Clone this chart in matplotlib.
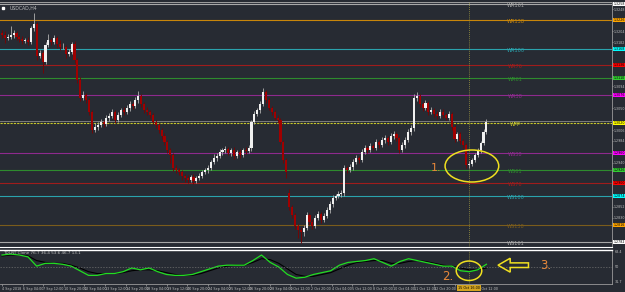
import numpy as np
import matplotlib
matplotlib.use('Agg')
import matplotlib.pyplot as plt
from matplotlib.patches import Ellipse, FancyArrow

symbol = 'USDCAD,H4'

opens = [1.3200, 1.3196, 1.3190, 1.3192, 1.3196, 1.3200, 1.3192, 1.3188, 1.3184, 1.3186, 1.3182, 1.3210, 1.3218, 1.3154, 1.3160, 1.3142, 1.3176, 1.3186, 1.3182, 1.3190, 1.3178, 1.3172, 1.3172, 1.3158, 1.3162, 1.3178, 1.3146,
         1.3106, 1.3070, 1.3076, 1.3066, 1.3042, 1.3006, 1.3012, 1.3016, 1.3022, 1.3018, 1.3030, 1.3034, 1.3042, 1.3026, 1.3036, 1.3046, 1.3042, 1.3050, 1.3058, 1.3054, 1.3066, 1.3074, 1.3058, 1.3046,
         1.3042, 1.3036, 1.3022, 1.3016, 1.3006, 1.2994, 1.2982, 1.2966, 1.2956, 1.2930, 1.2926, 1.2922, 1.2914, 1.2910, 1.2906, 1.2912, 1.2904, 1.2910, 1.2914, 1.2922, 1.2926, 1.2930, 1.2942, 1.2950, 1.2954, 1.2962, 1.2966, 1.2968, 1.2960, 1.2966, 1.2954, 1.2962, 1.2956, 1.2966, 1.2964,
         1.2970, 1.3022, 1.3038, 1.3046, 1.3058, 1.3082, 1.3066, 1.3050, 1.3042, 1.3030, 1.3026, 1.2982, 1.2946, 1.2880, 1.2852, 1.2836, 1.2814, 1.2806,
         1.2802, 1.2810, 1.2836, 1.2822, 1.2814, 1.2830, 1.2838, 1.2826, 1.2834, 1.2846, 1.2858, 1.2870, 1.2874, 1.2878, 1.2880, 1.2930, 1.2926,
         1.2932, 1.2942, 1.2950, 1.2946, 1.2962, 1.2970, 1.2966, 1.2974, 1.2970, 1.2982, 1.2976, 1.2986, 1.2990, 1.2982, 1.2994, 1.2998, 1.2990, 1.2966, 1.2976, 1.2986, 1.3002, 1.3010, 1.3070, 1.3074, 1.3058, 1.3050, 1.3060, 1.3042, 1.3046, 1.3038, 1.3034,
         1.3042, 1.3036, 1.3030, 1.3038, 1.3012, 1.2988, 1.2998, 1.2984, 1.2976, 1.2936, 1.2938, 1.2946, 1.2956, 1.2966, 1.2980, 1.3002]

highs = [1.3206, 1.3204, 1.3198, 1.3214, 1.3206, 1.3204, 1.3196, 1.3194, 1.3190, 1.3192, 1.3214, 1.3240, 1.3222, 1.3166, 1.3164, 1.3182, 1.3198, 1.3190, 1.3196, 1.3194, 1.3186, 1.3180, 1.3176, 1.3168, 1.3182, 1.3184, 1.3150,
         1.3112, 1.3084, 1.3080, 1.3070, 1.3046, 1.3020, 1.3022, 1.3028, 1.3026, 1.3036, 1.3040, 1.3048, 1.3046, 1.3042, 1.3050, 1.3052, 1.3056, 1.3064, 1.3062, 1.3072, 1.3084, 1.3078, 1.3062, 1.3052,
         1.3046, 1.3040, 1.3026, 1.3020, 1.3010, 1.3000, 1.2986, 1.2970, 1.2960, 1.2936, 1.2930, 1.2926, 1.2918, 1.2916, 1.2916, 1.2918, 1.2914, 1.2920, 1.2926, 1.2930, 1.2936, 1.2946, 1.2958, 1.2960, 1.2968, 1.2970, 1.2974, 1.2972, 1.2970, 1.2972, 1.2966, 1.2968, 1.2970, 1.2972, 1.2976,
         1.3026, 1.3044, 1.3050, 1.3064, 1.3090, 1.3086, 1.3070, 1.3054, 1.3046, 1.3036, 1.3030, 1.2986, 1.2950, 1.2888, 1.2856, 1.2840, 1.2818, 1.2812,
         1.2816, 1.2842, 1.2840, 1.2828, 1.2836, 1.2844, 1.2842, 1.2840, 1.2852, 1.2864, 1.2876, 1.2878, 1.2884, 1.2886, 1.2936, 1.2934, 1.2938,
         1.2948, 1.2956, 1.2954, 1.2968, 1.2976, 1.2974, 1.2980, 1.2978, 1.2988, 1.2986, 1.2992, 1.2996, 1.2994, 1.3000, 1.3004, 1.3002, 1.2994, 1.2982, 1.2992, 1.3008, 1.3016, 1.3078, 1.3082, 1.3078, 1.3062, 1.3066, 1.3064, 1.3052, 1.3050, 1.3044, 1.3048,
         1.3048, 1.3040, 1.3044, 1.3042, 1.3016, 1.3002, 1.3002, 1.2988, 1.2980, 1.2944, 1.2950, 1.2960, 1.2970, 1.2984, 1.3008, 1.3028]

lows = [1.3190, 1.3180, 1.3186, 1.3188, 1.3190, 1.3186, 1.3182, 1.3178, 1.3180, 1.3176, 1.3178, 1.3204, 1.3146, 1.3150, 1.3120, 1.3138, 1.3172, 1.3176, 1.3178, 1.3170, 1.3166, 1.3168, 1.3150, 1.3154, 1.3158, 1.3140, 1.3100,
        1.3064, 1.3066, 1.3060, 1.3036, 1.3000, 1.3002, 1.3006, 1.3012, 1.3012, 1.3014, 1.3024, 1.3030, 1.3020, 1.3022, 1.3032, 1.3036, 1.3038, 1.3044, 1.3048, 1.3050, 1.3060, 1.3052, 1.3040, 1.3036,
        1.3030, 1.3018, 1.3010, 1.3000, 1.2988, 1.2976, 1.2960, 1.2940, 1.2924, 1.2920, 1.2916, 1.2906, 1.2902, 1.2900, 1.2902, 1.2898, 1.2900, 1.2906, 1.2910, 1.2918, 1.2920, 1.2926, 1.2938, 1.2944, 1.2950, 1.2956, 1.2960, 1.2956, 1.2954, 1.2948, 1.2950, 1.2950, 1.2952, 1.2958, 1.2960,
        1.2964, 1.3018, 1.3034, 1.3040, 1.3054, 1.3060, 1.3046, 1.3036, 1.3026, 1.3020, 1.2978, 1.2940, 1.2910, 1.2846, 1.2830, 1.2808, 1.2790, 1.2780,
        1.2794, 1.2806, 1.2816, 1.2808, 1.2810, 1.2826, 1.2820, 1.2822, 1.2830, 1.2840, 1.2852, 1.2866, 1.2870, 1.2872, 1.2874, 1.2920, 1.2922,
        1.2926, 1.2938, 1.2940, 1.2942, 1.2958, 1.2960, 1.2962, 1.2966, 1.2966, 1.2970, 1.2972, 1.2980, 1.2976, 1.2978, 1.2988, 1.2984, 1.2960, 1.2962, 1.2970, 1.2982, 1.2996, 1.3004, 1.3064, 1.3052, 1.3044, 1.3046, 1.3036, 1.3038, 1.3032, 1.3028, 1.3030,
        1.3030, 1.3026, 1.3026, 1.3006, 1.2982, 1.2984, 1.2978, 1.2970, 1.2930, 1.2930, 1.2934, 1.2942, 1.2952, 1.2960, 1.2976, 1.2998]

closes = [1.3196, 1.3190, 1.3192, 1.3196, 1.3200, 1.3192, 1.3188, 1.3184, 1.3186, 1.3182, 1.3210, 1.3218, 1.3154, 1.3160, 1.3142, 1.3176, 1.3186, 1.3182, 1.3190, 1.3178, 1.3172, 1.3172, 1.3158, 1.3162, 1.3178, 1.3146, 1.3106,
          1.3070, 1.3076, 1.3066, 1.3042, 1.3006, 1.3012, 1.3016, 1.3022, 1.3018, 1.3030, 1.3034, 1.3042, 1.3026, 1.3036, 1.3046, 1.3042, 1.3050, 1.3058, 1.3054, 1.3066, 1.3074, 1.3058, 1.3046, 1.3042,
          1.3036, 1.3022, 1.3016, 1.3006, 1.2994, 1.2982, 1.2966, 1.2956, 1.2930, 1.2926, 1.2922, 1.2914, 1.2910, 1.2906, 1.2912, 1.2904, 1.2910, 1.2914, 1.2922, 1.2926, 1.2930, 1.2942, 1.2950, 1.2954, 1.2962, 1.2966, 1.2968, 1.2960, 1.2966, 1.2954, 1.2962, 1.2956, 1.2966, 1.2964, 1.2970,
          1.3022, 1.3038, 1.3046, 1.3058, 1.3082, 1.3066, 1.3050, 1.3042, 1.3030, 1.3026, 1.2982, 1.2946, 1.2922, 1.2852, 1.2836, 1.2814, 1.2806, 1.2802,
          1.2810, 1.2836, 1.2822, 1.2814, 1.2830, 1.2838, 1.2826, 1.2834, 1.2846, 1.2858, 1.2870, 1.2874, 1.2878, 1.2880, 1.2930, 1.2926, 1.2932,
          1.2942, 1.2950, 1.2946, 1.2962, 1.2970, 1.2966, 1.2974, 1.2970, 1.2982, 1.2976, 1.2986, 1.2990, 1.2982, 1.2994, 1.2998, 1.2990, 1.2966, 1.2976, 1.2986, 1.3002, 1.3010, 1.3070, 1.3074, 1.3058, 1.3050, 1.3060, 1.3042, 1.3046, 1.3038, 1.3034, 1.3042,
          1.3036, 1.3030, 1.3038, 1.3012, 1.2988, 1.2998, 1.2984, 1.2976, 1.2936, 1.2938, 1.2946, 1.2956, 1.2966, 1.2980, 1.3002, 1.3022]

# weekly fibonacci pivot levels
level_names = ['WR161', 'WR138', 'WR100', 'WR76', 'WR61', 'WR38', 'WPP',
               'WS38', 'WS61', 'WS76', 'WS100', 'WS138', 'WS161']
level_prices = [1.3258, 1.3226, 1.3168, 1.3136, 1.3110, 1.3076, 1.3020,
                1.2960, 1.2926, 1.2900, 1.2874, 1.2816, 1.2782]
level_colors = ['#a8a8a8', '#c8860a', '#2aa3ad', '#a01c1c', '#2e8b2e', '#8e2a8e', '#c8c82a',
                '#8e2a8e', '#2e8b2e', '#a01c1c', '#2aa3ad', '#7a5c1c', '#a8a8a8']
box_colors = ['#ffffff', '#ffa500', '#00ffff', '#ff0000', '#32cd32', '#ff00ff', '#ffff00',
              '#ff00ff', '#32cd32', '#ff0000', '#00ffff', '#ffa500', '#ffffff']

# TDI indicator (price line and signal line)
tdi_price = [63, 64, 63, 61, 51, 54, 54, 53, 51, 46, 41, 41, 43, 43, 45, 49, 47, 49, 45, 42,
             41, 41, 42, 45, 48, 51, 52, 52, 52, 57, 63, 55, 50, 42, 38, 39, 42, 44, 46, 52,
             55, 56, 57, 59, 55, 51, 56, 59, 57, 55, 53, 51, 51, 46, 45, 47, 53]
tdi_signal = [62, 63, 63, 62, 57, 55, 54, 54, 52, 49, 45, 43, 43, 43, 44, 46, 47, 47, 46, 44,
              42, 41, 41, 43, 46, 49, 51, 52, 52, 55, 59, 58, 54, 48, 42, 40, 40, 42, 44, 48,
              52, 55, 56, 57, 57, 54, 54, 56, 57, 56, 54, 52, 51, 49, 47, 47, 49]

date_labels = ['4 Sep 2018', '6 Sep 04:00', '7 Sep 12:00', '10 Sep 20:00', '12 Sep 04:00',
               '13 Sep 12:00', '14 Sep 20:00', '18 Sep 04:00', '19 Sep 12:00', '20 Sep 20:00',
               '24 Sep 04:00', '25 Sep 12:00', '26 Sep 20:00', '28 Sep 04:00', '1 Oct 12:00',
               '2 Oct 20:00', '4 Oct 04:00', '5 Oct 12:00', '8 Oct 20:00', '10 Oct 04:00',
               '11 Oct 12:00', '12 Oct 20:00', '', '17 Oct 12:00']
cursor_bar = 161
cursor_label = '15 Oct 16:00'

bg = '#272b33'
fg = '#c0c0c0'

fig = plt.figure(figsize=(6.25, 2.92), dpi=100, facecolor=bg)
ax = fig.add_axes([0, 45 / 292, 612 / 625, 245 / 292], facecolor=bg)
ax2 = fig.add_axes([0, 8 / 292, 612 / 625, 34 / 292], facecolor=bg)

n = len(closes)
x = np.arange(n)
o = np.array(opens)
c = np.array(closes)
h = np.array(highs)
l = np.array(lows)
up = c >= o

# pivot lines
for name, p, col in zip(level_names, level_prices, level_colors):
    ls = (0, (2, 1)) if name == 'WPP' else '-'
    ax.axhline(p, color=col, lw=0.8, ls=ls, zorder=1)
    ax.text(177, p - 0.0003, name, color=col, fontsize=3.6, ha='center', va='center', zorder=2)

# bid line
ax.axhline(closes[-1] + 0.0002, color='#8a8a8a', lw=0.6, zorder=1)

# candles
ax.vlines(x[up], l[up], h[up], color='#b0b0b0', lw=0.6, zorder=3)
ax.vlines(x[~up], l[~up], h[~up], color='#7a0000', lw=0.6, zorder=3)
body = np.maximum(np.abs(c - o), 0.00004)
ax.bar(x[up], body[up], bottom=np.minimum(o, c)[up], width=0.72, color='#f0f0f0', lw=0, zorder=4)
ax.bar(x[~up], body[~up], bottom=np.minimum(o, c)[~up], width=0.72, color='#a00000', lw=0, zorder=4)

ax.set_xlim(-0.7, 210.3)
ax.set_ylim(1.2772, 1.3262)
ax.set_xticks([])
ax.yaxis.tick_right()
ticks = [t for t in np.arange(1.2786, 1.3262, 0.0022)
         if min(abs(t - p) for p in level_prices) > 0.0009]
ax.set_yticks(ticks)
ax.set_yticklabels([f'{t:.4f}' for t in ticks], fontsize=2.3, color=fg)
ax.tick_params(axis='y', length=1.0, width=0.4, color=fg, pad=0.4)
for s in ['left', 'top']:
    ax.spines[s].set_visible(False)
ax.spines['right'].set_color('#9a9a9a')
ax.spines['right'].set_linewidth(0.6)
ax.spines['bottom'].set_color('#ffffff')
ax.spines['bottom'].set_linewidth(0.8)
ax.axhline(1.3261, color='#9a9a9a', lw=0.8)

# colored price boxes on the right axis
for p, bc in zip(level_prices, box_colors):
    ax.text(1.002, p, f'{p:.4f}', transform=ax.get_yaxis_transform(), fontsize=2.3,
            color='black', va='center', ha='left', clip_on=False, zorder=10,
            bbox=dict(boxstyle='square,pad=0.12', fc=bc, ec='none'))

ax.text(2.5, 1.3250, symbol, color=fg, fontsize=3.3, va='center', ha='left')
ax.plot([0.3], [1.3250], 's', ms=1.5, color='white')

# cursor line
ax.axvline(cursor_bar, color='#a09a40', lw=0.6, ls=(0, (1, 1.5)))
ax2.axvline(cursor_bar, color='#a09a40', lw=0.6, ls=(0, (1, 1.5)))

# annotations main
ax.add_patch(Ellipse((cursor_bar + 1, 1.2934), 18.5, 0.0064, fill=False, ec='#f0e020', lw=1.1, zorder=6))
ax.text(149.5, 1.2930, '1.', color='#e8883a', fontsize=8, ha='center', va='center', zorder=6)

# indicator
tx = np.linspace(0, n - 1, len(tdi_price))
ax2.plot(tx, tdi_signal, color='#000000', lw=0.8)
ax2.plot(tx, tdi_price, color='#22dd22', lw=0.9)
ax2.axhline(50, color='#707070', lw=0.5, ls=(0, (2, 2)))
ax2.set_xlim(-0.7, 210.3)
ax2.set_ylim(31.7, 68.4)
ax2.set_yticks([])
ax2.spines['left'].set_visible(False)
ax2.spines['top'].set_color('#ffffff')
ax2.spines['top'].set_linewidth(1.0)
ax2.spines['right'].set_color('#9a9a9a')
ax2.spines['right'].set_linewidth(0.6)
ax2.spines['bottom'].set_color('#9a9a9a')
ax2.spines['bottom'].set_linewidth(0.6)
for val, lab, va in [(68.4, '68.4', 'top'), (50, '50', 'center'), (31.7, '31.7', 'bottom')]:
    ax2.text(1.004, val, lab, transform=ax2.get_yaxis_transform(), fontsize=2.4, color=fg,
             va=va, ha='left', clip_on=False)
ax2.text(0.5, 67.5, 'TDI-RT Clone 76.7 36.4 53.6 46.7 13.1', color=fg, fontsize=3,
         va='top', ha='left')

ax2.add_patch(Ellipse((cursor_bar, 46), 8.8, 21, fill=False, ec='#f0e020', lw=1.1, zorder=6))
ax2.text(153.5, 40, '2.', color='#e8883a', fontsize=8.5, ha='center', va='center', zorder=6)
ax2.add_patch(FancyArrow(181.5, 52, -10.5, 0, width=5, head_width=15, head_length=4.2,
                         length_includes_head=True, fill=False, ec='#f0e020', lw=1.1, zorder=6))
ax2.text(187.5, 52, '3.', color='#e8883a', fontsize=8.5, ha='center', va='center', zorder=6)

pos = np.arange(len(date_labels)) * 7.1
ax2.set_xticks(pos)
ax2.set_xticklabels(date_labels, fontsize=2.4, color=fg, ha='left')
ax2.tick_params(axis='x', length=1.5, width=0.4, color=fg, pad=1)
ax2.text(cursor_bar, -0.06, cursor_label, transform=ax2.get_xaxis_transform(), fontsize=2.4,
         color='black', ha='center', va='top', clip_on=False, zorder=10,
         bbox=dict(boxstyle='square,pad=0.2', fc='#d4a520', ec='none'))

fig.savefig('out.png', dpi=100, facecolor=bg)
